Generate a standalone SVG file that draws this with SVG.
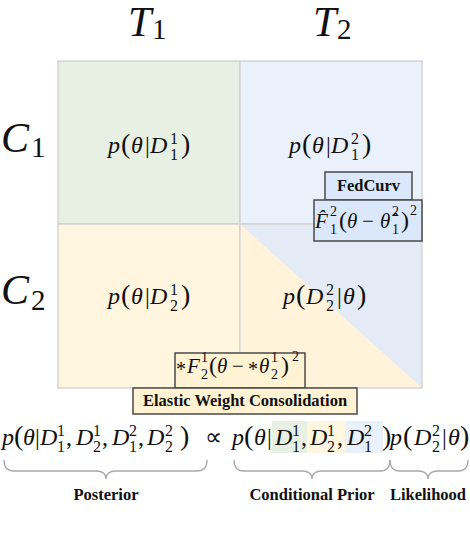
<svg xmlns="http://www.w3.org/2000/svg" width="470" height="536" viewBox="0 0 470 536" font-family="'Liberation Serif', 'Times New Roman', serif">
<style>
text{fill:#111;font-family:'Liberation Serif','Times New Roman',Times,serif}
.i{font-style:italic;font-size:24px}
.u{font-size:24px}
.p{font-size:28px}
.s{font-size:16px}
.f{font-style:italic;font-size:21px}
.fu{font-size:21px}
.ast{font-size:20px}
.fp{font-size:24px}
.fs{font-size:14px}
.big{font-style:italic;font-size:42px}
.bs{font-size:29px}
.lbl{font-weight:bold;font-size:16.5px;text-anchor:middle}
.grid{stroke:#d0d0d0;stroke-width:1.3}
.bb{fill:#dbe8fb;stroke:#4a4a4a;stroke-width:1.5}
.yb{fill:#fff3d4;stroke:#4a4a4a;stroke-width:1.5}
.brace{fill:none;stroke:#a8a8a8;stroke-width:1.3}
</style>

<g id="headers">
<text class="big" x="128" y="36">T</text><text class="bs" x="152" y="39">1</text>
<text class="big" x="313" y="36">T</text><text class="bs" x="337" y="39">2</text>
<text class="big" x="1" y="152">C</text><text class="bs" x="31" y="157">1</text>
<text class="big" x="1" y="304">C</text><text class="bs" x="31" y="310">2</text>
</g>

<g id="cell-c1-t1">
<rect x="58" y="61" width="182" height="163" fill="#e8f0e4" class="grid"/>
<text class="i" x="108" y="153">p</text><text class="p" x="121" y="153">(</text><text class="i" x="131" y="153">θ</text><text class="u" x="145" y="153">|</text><text class="i" x="150" y="153">D</text><text class="s" x="170" y="144">1</text><text class="s" x="170" y="160">1</text><text class="p" x="181" y="153">)</text>
</g>

<g id="cell-c1-t2">
<rect x="240" y="61" width="182" height="163" fill="#eaf1fa" class="grid"/>
<text class="i" x="289" y="153">p</text><text class="p" x="302" y="153">(</text><text class="i" x="312" y="153">θ</text><text class="u" x="326" y="153">|</text><text class="i" x="331" y="153">D</text><text class="s" x="351" y="144">2</text><text class="s" x="351" y="160">1</text><text class="p" x="362" y="153">)</text>
</g>

<g id="cell-c2-t1">
<rect x="58" y="224" width="182" height="164" fill="#fff6e0" class="grid"/>
<text class="i" x="108" y="304">p</text><text class="p" x="121" y="304">(</text><text class="i" x="131" y="304">θ</text><text class="u" x="145" y="304">|</text><text class="i" x="150" y="304">D</text><text class="s" x="170" y="295">1</text><text class="s" x="170" y="311">2</text><text class="p" x="181" y="304">)</text>
</g>

<g id="cell-c2-t2">
<rect x="240" y="224" width="182" height="164" fill="#e5ebf6" class="grid"/>
<polygon points="240.7,224.7 421.3,387.3 240.7,387.3" fill="#fff3dc"/>
<text class="i" x="283" y="304">p</text><text class="p" x="296" y="304">(</text><text class="i" x="306" y="304">D</text><text class="s" x="326" y="295">2</text><text class="s" x="326" y="311">2</text><text class="u" x="337" y="304">|</text><text class="i" x="343" y="304">θ</text><text class="p" x="357" y="304">)</text>
</g>

<g id="fedcurv">
<rect x="325" y="172" width="87" height="28" class="bb"/>
<text class="lbl" x="368.5" y="191">FedCurv</text>
<rect x="314" y="200" width="108" height="41" class="bb"/>
<text class="f" x="315" y="228">F̂</text><text class="fs" x="330" y="216">2</text><text class="fs" x="330" y="234">1</text><text class="fp" x="339" y="228">(</text><text class="f" x="347" y="228">θ</text><text class="fu" x="362" y="228">−</text><text class="f" x="380" y="228">θ̂</text><text class="fs" x="392" y="216">2</text><text class="fs" x="392" y="234">1</text><text class="fp" x="401" y="228">)</text><text class="fs" x="410" y="215">2</text>
</g>

<g id="ewc">
<rect x="175" y="353" width="130" height="35" class="yb"/>
<text class="ast" x="176" y="376">*</text><text class="f" x="187" y="373">F</text><text class="fs" x="201" y="362">1</text><text class="fs" x="201" y="379">2</text><text class="fp" x="209" y="373">(</text><text class="f" x="217" y="373">θ</text><text class="fu" x="232" y="373">−</text><text class="ast" x="248" y="376">*</text><text class="f" x="259" y="373">θ</text><text class="fs" x="271" y="362">1</text><text class="fs" x="271" y="379">2</text><text class="fp" x="281" y="373">)</text><text class="fs" x="292" y="361">2</text>
<rect x="133" y="388" width="224" height="26" class="yb"/>
<text class="lbl" x="245" y="406">Elastic Weight Consolidation</text>
</g>

<g id="equation">
<rect x="272" y="421" width="35" height="32" fill="#e8f0e4"/>
<rect x="307" y="421" width="38" height="32" fill="#fff6e0"/>
<rect x="345" y="421" width="38" height="32" fill="#eaf1fa"/>
<text class="i" x="2" y="445">p</text><text class="p" x="14" y="445">(</text><text class="i" x="23" y="445">θ</text><text class="u" x="35" y="445">|</text>
<text class="i" x="40" y="445">D</text><text class="s" x="57" y="436">1</text><text class="s" x="57" y="452">1</text><text class="u" x="66" y="445">,</text>
<text class="i" x="76" y="445">D</text><text class="s" x="93" y="436">1</text><text class="s" x="93" y="452">2</text><text class="u" x="102" y="445">,</text>
<text class="i" x="112" y="445">D</text><text class="s" x="129" y="436">2</text><text class="s" x="129" y="452">1</text><text class="u" x="138" y="445">,</text>
<text class="i" x="147" y="445">D</text><text class="s" x="165" y="436">2</text><text class="s" x="165" y="452">2</text><text class="p" x="180" y="445">)</text>
<text class="u" x="205" y="445">∝</text>
<text class="i" x="232" y="445">p</text><text class="p" x="244" y="445">(</text><text class="i" x="254" y="445">θ</text><text class="u" x="267" y="445">|</text>
<text class="i" x="275" y="445">D</text><text class="s" x="292" y="436">1</text><text class="s" x="292" y="452">1</text><text class="u" x="301" y="445">,</text>
<text class="i" x="310" y="445">D</text><text class="s" x="327" y="436">1</text><text class="s" x="327" y="452">2</text><text class="u" x="337" y="445">,</text>
<text class="i" x="347" y="445">D</text><text class="s" x="364" y="436">2</text><text class="s" x="364" y="452">1</text><text class="p" x="382" y="445">)</text>
<text class="i" x="390" y="445">p</text><text class="p" x="403" y="445">(</text><text class="i" x="414" y="445">D</text><text class="s" x="432" y="436">2</text><text class="s" x="432" y="452">2</text><text class="u" x="442" y="445">|</text><text class="i" x="448" y="445">θ</text><text class="p" x="460" y="445">)</text>
</g>

<g id="connectors">
<path class="brace" d="M4,460 Q4,471 14,471 L96,471 Q106,471 106,479 Q106,471 116,471 L197,471 Q207,471 207,460"/>
<path class="brace" d="M234,460 Q234,471 244,471 L302,471 Q312,471 312,479 Q312,471 322,471 L380,471 Q390,471 390,460"/>
<path class="brace" d="M390,460 Q390,471 400,471 L418,471 Q428,471 428,479 Q428,471 438,471 L458,471 Q468,471 468,460"/>
</g>

<g id="labels">
<text class="lbl" x="106" y="500">Posterior</text>
<text class="lbl" x="312" y="500">Conditional Prior</text>
<text class="lbl" x="428" y="500">Likelihood</text>
</g>
</svg>
